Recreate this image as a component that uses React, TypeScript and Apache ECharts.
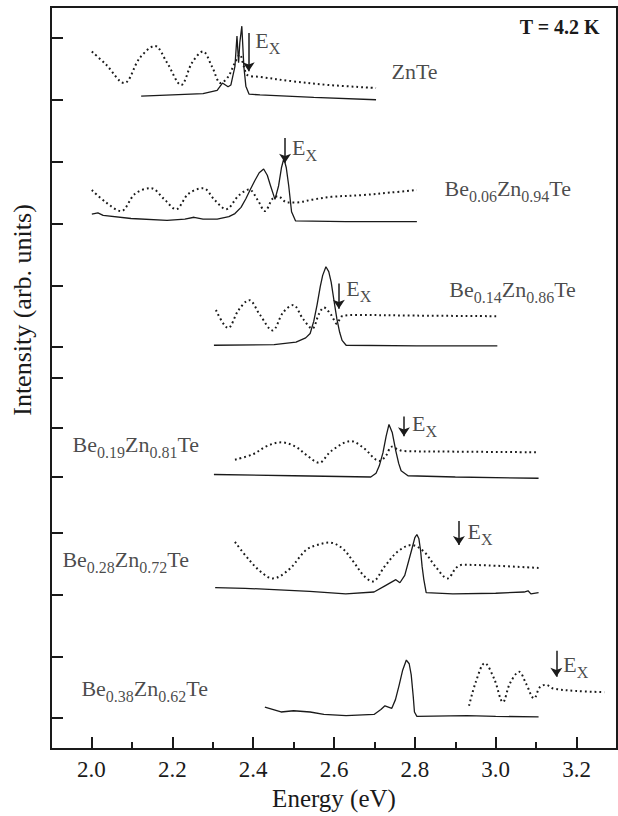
import React, { useEffect, useRef } from 'react';
import * as echarts from 'echarts';

// ---- axes ----
const xTicksMajor = [2.0, 2.2, 2.4, 2.6, 2.8, 3.0, 3.2];
const xTicksMinor = [2.1, 2.3, 2.5, 2.7, 2.9, 3.1];
const yTicks = [0, 1, 2, 3, 3.9, 4.7, 5.5, 6, 7, 8, 9, 10, 11];

// ---- samples (top to bottom) ----
const sampleLabels = [
  '{n|ZnTe}',
  '{n|Be}{s|0.06}{n|Zn}{s|0.94}{n|Te}',
  '{n|Be}{s|0.14}{n|Zn}{s|0.86}{n|Te}',
  '{n|Be}{s|0.19}{n|Zn}{s|0.81}{n|Te}',
  '{n|Be}{s|0.28}{n|Zn}{s|0.72}{n|Te}',
  '{n|Be}{s|0.38}{n|Zn}{s|0.62}{n|Te}',
];
const offsets = [10, 8, 6, 3.9, 2.0, 0];
const labelPos: [number, number][] = [
  [2.741, 0.42], [2.872, 0.53], [2.884, 0.90], [1.952, 0.50], [1.927, 0.54], [1.974, 0.45],
];
// E_X arrows: energy, top, bottom (relative to baseline)
const exArrows: [number, number, number][] = [
  [2.389, 1.08, 0.46], [2.479, 1.38, 0.98], [2.612, 1.03, 0.62],
  [2.773, 0.98, 0.66], [2.909, 1.19, 0.80], [3.150, 1.09, 0.67],
];
const exLabelPos: [number, number][] = [
  [2.404, 0.93], [2.495, 1.20], [2.629, 0.92], [2.792, 0.84], [2.929, 0.99], [3.166, 0.84],
];

// ---- PL spectra (solid) ----
const znTePL: [number, number][] = [
  [2.123, 0.06], [2.200, 0.08], [2.276, 0.10], [2.311, 0.15], [2.324, 0.27], [2.338, 0.21],
  [2.345, 0.24], [2.355, 0.54], [2.360, 1.03], [2.364, 0.60], [2.367, 0.92], [2.372, 1.19],
  [2.377, 0.54], [2.382, 0.22], [2.390, 0.09], [2.417, 0.08], [2.550, 0.04], [2.704, 0.0],
];
const be06PL: [number, number][] = [
  [2.001, 0.15], [2.016, 0.17], [2.029, 0.13], [2.098, 0.08], [2.187, 0.05], [2.231, 0.07],
  [2.254, 0.10], [2.276, 0.07], [2.311, 0.07], [2.340, 0.11], [2.355, 0.16], [2.370, 0.26],
  [2.382, 0.40], [2.393, 0.55], [2.404, 0.69], [2.415, 0.82], [2.426, 0.88], [2.435, 0.78],
  [2.443, 0.61], [2.454, 0.39], [2.463, 0.61], [2.470, 0.90], [2.476, 1.05], [2.482, 0.90],
  [2.488, 0.61], [2.495, 0.19], [2.505, 0.04], [2.629, 0.03], [2.805, 0.03],
];
const be14PL: [number, number][] = [
  [2.303, 0.03], [2.452, 0.04], [2.506, 0.08], [2.530, 0.15], [2.541, 0.22], [2.550, 0.42],
  [2.558, 0.68], [2.566, 0.98], [2.572, 1.16], [2.580, 1.30], [2.587, 1.22], [2.593, 1.05],
  [2.600, 0.75], [2.607, 0.46], [2.614, 0.24], [2.620, 0.11], [2.630, 0.03], [2.805, 0.02],
  [3.004, 0.02],
];
const be19PL: [number, number][] = [
  [2.303, 0.04], [2.500, 0.02], [2.691, 0.0], [2.704, 0.06], [2.712, 0.18], [2.721, 0.39],
  [2.729, 0.66], [2.736, 0.85], [2.744, 0.72], [2.753, 0.42], [2.760, 0.22], [2.766, 0.10],
  [2.783, 0.02], [2.900, 0.0], [3.106, -0.02],
];
const be28PL: [number, number][] = [
  [2.306, 0.11], [2.380, 0.10], [2.452, 0.08], [2.540, 0.05], [2.629, 0.01], [2.699, 0.04],
  [2.726, 0.14], [2.753, 0.24], [2.763, 0.19], [2.775, 0.31], [2.785, 0.55], [2.792, 0.72],
  [2.800, 0.92], [2.805, 0.97], [2.810, 0.90], [2.814, 0.72], [2.818, 0.45], [2.822, 0.25],
  [2.828, 0.03], [2.894, 0.01], [3.000, 0.02], [3.070, 0.04], [3.080, 0.06], [3.087, 0.01],
  [3.106, 0.03],
];
const be38PL: [number, number][] = [
  [2.429, 0.18], [2.469, 0.10], [2.500, 0.12], [2.541, 0.10], [2.575, 0.06], [2.630, 0.04],
  [2.699, 0.06], [2.716, 0.14], [2.726, 0.20], [2.743, 0.16], [2.752, 0.30], [2.761, 0.53],
  [2.770, 0.78], [2.779, 0.94], [2.786, 0.88], [2.791, 0.70], [2.796, 0.35], [2.799, 0.10],
  [2.805, 0.03], [2.929, 0.04], [3.000, 0.03], [3.106, 0.02],
];

// ---- reflectance spectra (dotted) ----
const znTeRefl: [number, number][] = [
  [2.001, 0.78], [2.036, 0.57], [2.081, 0.27], [2.120, 0.68], [2.157, 0.87], [2.187, 0.60],
  [2.222, 0.24], [2.249, 0.60], [2.276, 0.78], [2.298, 0.54], [2.320, 0.27], [2.338, 0.37],
  [2.355, 0.60], [2.367, 0.73], [2.377, 0.54], [2.386, 0.40], [2.417, 0.37], [2.496, 0.30],
  [2.585, 0.24], [2.704, 0.19],
];
const be06Refl: [number, number][] = [
  [2.001, 0.54], [2.036, 0.34], [2.073, 0.20], [2.108, 0.48], [2.147, 0.57], [2.179, 0.40],
  [2.209, 0.23], [2.240, 0.48], [2.276, 0.57], [2.306, 0.37], [2.333, 0.23], [2.364, 0.45],
  [2.390, 0.55], [2.412, 0.37], [2.429, 0.20], [2.448, 0.40], [2.461, 0.44], [2.484, 0.34],
  [2.506, 0.34], [2.550, 0.39], [2.593, 0.43], [2.673, 0.46], [2.740, 0.50], [2.805, 0.54],
];
const be14Refl: [number, number][] = [
  [2.308, 0.60], [2.338, 0.31], [2.364, 0.60], [2.390, 0.76], [2.417, 0.52], [2.448, 0.27],
  [2.474, 0.56], [2.499, 0.68], [2.523, 0.46], [2.546, 0.30], [2.563, 0.54], [2.575, 0.64],
  [2.593, 0.52], [2.607, 0.38], [2.620, 0.50], [2.654, 0.52], [2.800, 0.51], [3.008, 0.50],
];
const be19Refl: [number, number][] = [
  [2.355, 0.28], [2.400, 0.37], [2.434, 0.50], [2.469, 0.56], [2.505, 0.49], [2.531, 0.36],
  [2.563, 0.23], [2.593, 0.42], [2.642, 0.58], [2.673, 0.47], [2.713, 0.26], [2.728, 0.34],
  [2.743, 0.49], [2.757, 0.45], [2.771, 0.42], [2.900, 0.41], [3.106, 0.40],
];
const be28Refl: [number, number][] = [
  [2.355, 0.85], [2.390, 0.56], [2.422, 0.35], [2.448, 0.26], [2.488, 0.40], [2.531, 0.72],
  [2.558, 0.80], [2.589, 0.84], [2.620, 0.75], [2.647, 0.54], [2.673, 0.31], [2.695, 0.21],
  [2.726, 0.46], [2.757, 0.69], [2.792, 0.80], [2.823, 0.69], [2.850, 0.46], [2.881, 0.26],
  [2.902, 0.43], [2.917, 0.48], [2.982, 0.47], [3.106, 0.43],
];
const be38Refl: [number, number][] = [
  [2.934, 0.20], [2.951, 0.59], [2.973, 0.89], [2.996, 0.64], [3.018, 0.26], [3.035, 0.56],
  [3.058, 0.75], [3.075, 0.56], [3.095, 0.32], [3.109, 0.50], [3.124, 0.54], [3.142, 0.48],
  [3.200, 0.44], [3.269, 0.42],
];

const plSpectra = [znTePL, be06PL, be14PL, be19PL, be28PL, be38PL];
const reflSpectra = [znTeRefl, be06Refl, be14Refl, be19Refl, be28Refl, be38Refl];

const ink = '#1a1a1a';
const serif = 'Liberation Serif, serif';
const rich = {
  n: { fontFamily: serif, fontSize: 22, color: ink, lineHeight: 26, verticalAlign: 'top' },
  s: { fontFamily: serif, fontSize: 16, color: ink, lineHeight: 26, verticalAlign: 'top', padding: [11, 0, 0, 0] },
};

function buildOption() {
  const series: any[] = [];
  plSpectra.forEach((spec, i) => {
    series.push({
      type: 'line',
      name: 'PL ' + i,
      data: spec.map(([e, r]) => [e, r + offsets[i]]),
      symbol: 'none',
      lineStyle: { color: ink, width: 1.3 },
      silent: true,
    });
  });
  reflSpectra.forEach((spec, i) => {
    const [ae, at, ab] = exArrows[i];
    series.push({
      type: 'line',
      name: 'R ' + i,
      data: spec.map(([e, r]) => [e, r + offsets[i]]),
      symbol: 'none',
      smooth: 0.35,
      lineStyle: { color: ink, width: 2, type: [1.8, 3] },
      silent: true,
      markLine: {
        silent: true,
        symbol: ['none', 'arrow'],
        symbolSize: 9,
        label: { show: false },
        lineStyle: { color: ink, width: 1.5, type: 'solid' },
        data: [[{ coord: [ae, at + offsets[i]] }, { coord: [ae, ab + offsets[i]] }]],
      },
    });
  });
  series.push({
    type: 'scatter',
    name: 'labels',
    symbolSize: 1,
    itemStyle: { color: 'transparent' },
    silent: true,
    data: sampleLabels.map((txt, i) => ({
      value: [labelPos[i][0], labelPos[i][1] + offsets[i]],
      label: { show: true, position: 'right', distance: 0, formatter: txt, rich },
    })),
  });
  series.push({
    type: 'scatter',
    name: 'Ex',
    symbolSize: 1,
    itemStyle: { color: 'transparent' },
    silent: true,
    data: exLabelPos.map(([e, r], i) => ({
      value: [e, r + offsets[i]],
      label: { show: true, position: 'right', distance: 0, formatter: '{n|E}{s|X}', rich },
    })),
  });

  return {
    animation: false,
    backgroundColor: '#ffffff',
    grid: {
      left: 51, right: 1, top: 7, bottom: 64,
      show: true, borderColor: ink, borderWidth: 2, backgroundColor: 'transparent',
    },
    xAxis: [
      {
        type: 'value', min: 1.9, max: 3.3, position: 'bottom',
        axisLine: { onZero: false, lineStyle: { color: ink, width: 2 } },
        axisTick: { inside: true, length: 12, customValues: xTicksMajor, lineStyle: { color: ink, width: 2 } },
        axisLabel: {
          customValues: xTicksMajor,
          formatter: (v: number) => v.toFixed(1),
          fontFamily: serif, fontSize: 23, color: ink, margin: 9,
        },
        splitLine: { show: false },
        name: 'Energy (eV)', nameLocation: 'middle', nameGap: 36,
        nameTextStyle: { fontFamily: serif, fontSize: 25, color: ink },
      },
      {
        type: 'value', min: 1.9, max: 3.3, position: 'bottom',
        axisLine: { show: false, onZero: false },
        axisTick: { inside: true, length: 7, customValues: xTicksMinor, lineStyle: { color: ink, width: 2 } },
        axisLabel: { show: false },
        splitLine: { show: false },
      },
    ],
    yAxis: {
      type: 'value', min: -0.5, max: 11.5,
      axisLine: { onZero: false, lineStyle: { color: ink, width: 2 } },
      axisTick: { inside: true, length: 12, customValues: yTicks, lineStyle: { color: ink, width: 2 } },
      axisLabel: { show: false },
      splitLine: { show: false },
    },
    graphic: [
      {
        type: 'text', right: 18, top: 17,
        style: { text: 'T = 4.2 K', font: 'bold 20px Liberation Serif, serif', fill: ink },
      },
      {
        type: 'text', x: 22, y: 310, rotation: Math.PI / 2,
        style: {
          text: 'Intensity (arb. units)', font: '26px Liberation Serif, serif', fill: ink,
          textAlign: 'center', textVerticalAlign: 'middle',
        },
      },
    ],
    series,
  };
}

export default function App() {
  const ref = useRef<HTMLDivElement>(null);
  useEffect(() => {
    if (!ref.current) return;
    const chart = echarts.init(ref.current, undefined, { renderer: 'svg' });
    chart.setOption(buildOption() as any);
    return () => chart.dispose();
  }, []);
  return (
    <div
      ref={ref}
      style={{ position: 'fixed', left: 0, top: 0, width: 618, height: 816, background: '#fff' }}
    />
  );
}
